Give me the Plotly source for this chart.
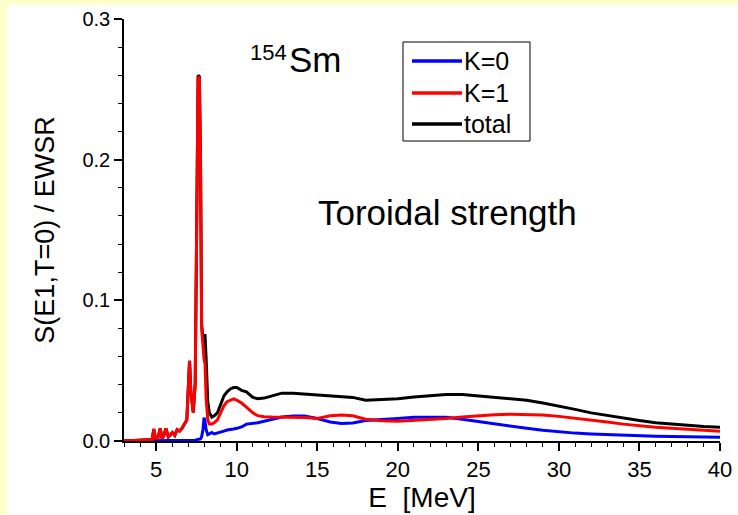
import plotly.graph_objects as go

# Energy grid (MeV)
E = [3.0, 4.5, 4.75, 4.85, 4.95, 5.1, 5.25, 5.35, 5.45, 5.6, 5.75, 5.85, 6.0, 6.15, 6.3, 6.45,
     6.6, 6.75, 6.9, 7.0, 7.07, 7.15, 7.3, 7.42, 7.52, 7.6, 7.68, 7.75, 7.82, 7.9, 7.97, 8.03,
     8.1, 8.2, 8.3, 8.45, 8.6, 8.8, 9.0, 9.2, 9.4, 9.6, 9.8, 10.0, 10.3, 10.6, 11.0, 11.3, 11.7,
     12.2, 12.8, 13.5, 14.2, 15.0, 15.8, 16.5, 17.2, 18.0, 19.0, 20.0, 21.0, 22.0, 23.0, 24.0,
     25.0, 26.0, 27.0, 28.0, 29.0, 30.0, 31.0, 32.0, 33.0, 34.0, 35.0, 36.0, 37.0, 38.0, 39.0, 40.0]

K1 = [0.0, 0.0005, 0.001, 0.0085, 0.002, 0.002, 0.009, 0.002, 0.003, 0.009, 0.003, 0.004, 0.006,
      0.004, 0.008, 0.007, 0.009, 0.012, 0.015, 0.04, 0.057, 0.035, 0.02, 0.04, 0.2, 0.259, 0.258,
      0.2, 0.08, 0.065, 0.058, 0.055, 0.03, 0.015, 0.012, 0.012, 0.013, 0.015, 0.02, 0.025, 0.028,
      0.029, 0.030, 0.029, 0.027, 0.024, 0.020, 0.018, 0.0173, 0.017, 0.017, 0.017, 0.0167, 0.016,
      0.018, 0.0185, 0.018, 0.0155, 0.0144, 0.014, 0.0145, 0.0152, 0.016, 0.017, 0.018, 0.0186,
      0.019, 0.019, 0.0185, 0.0175, 0.0163, 0.015, 0.0135, 0.012, 0.0108, 0.0098, 0.009, 0.0082,
      0.0075, 0.0069]

K0 = [0.0, 0.0, 0.0, 0.0, 0.0, 0.0, 0.0, 0.0, 0.0, 0.0, 0.0, 0.0, 0.0, 0.0, 0.0, 0.0,
      0.0, 0.0, 0.0, 0.0, 0.0, 0.0, 0.0003, 0.0005, 0.001, 0.001, 0.0012, 0.0015, 0.003, 0.008,
      0.0166, 0.014, 0.008, 0.0045, 0.005, 0.006, 0.005, 0.0055, 0.006, 0.007, 0.0078, 0.008,
      0.0085, 0.009, 0.010, 0.012, 0.0125, 0.013, 0.014, 0.0152, 0.017, 0.0178, 0.0178, 0.016,
      0.0135, 0.0125, 0.0128, 0.0145, 0.0155, 0.016, 0.0168, 0.017, 0.0168, 0.0155, 0.0138, 0.012,
      0.0105, 0.009, 0.0076, 0.0065, 0.0056, 0.005, 0.0045, 0.004, 0.0036, 0.0034, 0.0032, 0.003,
      0.0028, 0.0026]

TOTAL = [0.0, 0.0005, 0.001, 0.0085, 0.002, 0.002, 0.009, 0.002, 0.003, 0.009, 0.003, 0.004, 0.006,
         0.004, 0.008, 0.007, 0.009, 0.012, 0.015, 0.04, 0.057, 0.035, 0.0203, 0.041, 0.2, 0.26,
         0.259, 0.2, 0.083, 0.073, 0.075, 0.075, 0.058, 0.028, 0.02, 0.017, 0.018, 0.02, 0.026,
         0.032, 0.035, 0.037, 0.038, 0.038, 0.036, 0.035, 0.031, 0.030, 0.0305, 0.032, 0.034, 0.034,
         0.0335, 0.033, 0.0325, 0.032, 0.031, 0.029, 0.0295, 0.030, 0.0313, 0.032, 0.033, 0.033,
         0.032, 0.031, 0.030, 0.029, 0.027, 0.025, 0.0225, 0.020, 0.018, 0.016, 0.0145, 0.013, 0.012,
         0.011, 0.0103, 0.0098]

SERIES_NAMES = ["K=0", "K=1", "total"]
SERIES_COLORS = ["#0000FF", "#FF0000", "#000000"]

X_TICKS = [5, 10, 15, 20, 25, 30, 35, 40]
Y_TICKS = [0.0, 0.1, 0.2, 0.3]

FONT = "Liberation Sans, Arial, sans-serif"
W, H = 738, 515
L, R, T, B = 124, 18, 19, 74
pw, ph = W - L - R, H - T - B

fig = go.Figure()
# draw order: total underneath, then K=0, then K=1 on top
for name, y, col in [("total", TOTAL, SERIES_COLORS[2]), ("K=0", K0, SERIES_COLORS[0]),
                     ("K=1", K1, SERIES_COLORS[1])]:
    fig.add_trace(go.Scatter(x=E, y=y, mode="lines", name=name,
                             line=dict(color=col, width=3), showlegend=False))

def px_x(p):
    return (p - L) / pw

def px_y(p):
    return (H - B - p) / ph

shapes = [
    dict(type="rect", xref="paper", yref="paper", x0=px_x(0), x1=px_x(7), y0=px_y(H), y1=px_y(0),
         fillcolor="#FFFFCC", line_width=0, layer="below"),
    dict(type="rect", xref="paper", yref="paper", x0=px_x(0), x1=px_x(W), y0=px_y(5), y1=px_y(0),
         fillcolor="#FFFFCC", line_width=0, layer="below"),
    # legend box
    dict(type="rect", xref="paper", yref="paper", x0=px_x(403), x1=px_x(530), y0=px_y(141),
         y1=px_y(42), fillcolor="white", line=dict(color="black", width=1), layer="above"),
]

annotations = [
    dict(text="154", x=px_x(289), y=px_y(38), xref="paper", yref="paper", xanchor="right",
         yanchor="top", showarrow=False, font=dict(family=FONT, size=22, color="black")),
    dict(text="Sm", x=px_x(287), y=px_y(81), xref="paper", yref="paper", xanchor="left",
         yanchor="bottom", showarrow=False, font=dict(family=FONT, size=35, color="black")),
    dict(text="Toroidal strength", x=px_x(316), y=px_y(212), xref="paper", yref="paper",
         xanchor="left", yanchor="middle", showarrow=False,
         font=dict(family=FONT, size=35, color="black")),
]

# manual legend entries
legend_rows = [61, 93, 124]
for name, col, ry in zip(SERIES_NAMES, SERIES_COLORS, legend_rows):
    shapes.append(dict(type="line", xref="paper", yref="paper", x0=px_x(412), x1=px_x(462),
                       y0=px_y(ry), y1=px_y(ry), line=dict(color=col, width=3.5), layer="above"))
    annotations.append(dict(text=name, x=px_x(462), y=px_y(ry), xref="paper", yref="paper",
                            xanchor="left", yanchor="middle", showarrow=False,
                            font=dict(family=FONT, size=25, color="black")))

fig.update_layout(
    width=W, height=H,
    margin=dict(l=L, r=R, t=T, b=B, pad=0),
    paper_bgcolor="white", plot_bgcolor="white",
    font=dict(family=FONT, color="black"),
    shapes=shapes, annotations=annotations,
    showlegend=False,
    xaxis=dict(range=[3, 40], showgrid=False, zeroline=False, showline=True, automargin=False,
               linecolor="black", linewidth=1.5, ticks="outside", ticklen=8, tickwidth=1.5,
               tickcolor="black", tickvals=X_TICKS, ticktext=[str(v) for v in X_TICKS],
               tickfont=dict(family=FONT, size=22),
               minor=dict(ticks="outside", ticklen=4, dtick=1, tickcolor="black", tickwidth=1.2),
               title=dict(text="E  [MeV]", font=dict(family=FONT, size=28), standoff=6)),
    yaxis=dict(range=[0, 0.3], showgrid=False, zeroline=False, showline=True, automargin=False,
               linecolor="black", linewidth=1.5, ticks="outside", ticklen=8, tickwidth=1.5,
               tickcolor="black", tickvals=Y_TICKS, ticktext=["%.1f" % v for v in Y_TICKS],
               tickfont=dict(family=FONT, size=20),
               minor=dict(ticks="outside", ticklen=4, dtick=0.02, tick0=0, tickcolor="black",
                          tickwidth=1.2),
               title=dict(text="S(E1,T=0) / EWSR", font=dict(family=FONT, size=27), standoff=20)),
)

fig.write_html("out.html")
